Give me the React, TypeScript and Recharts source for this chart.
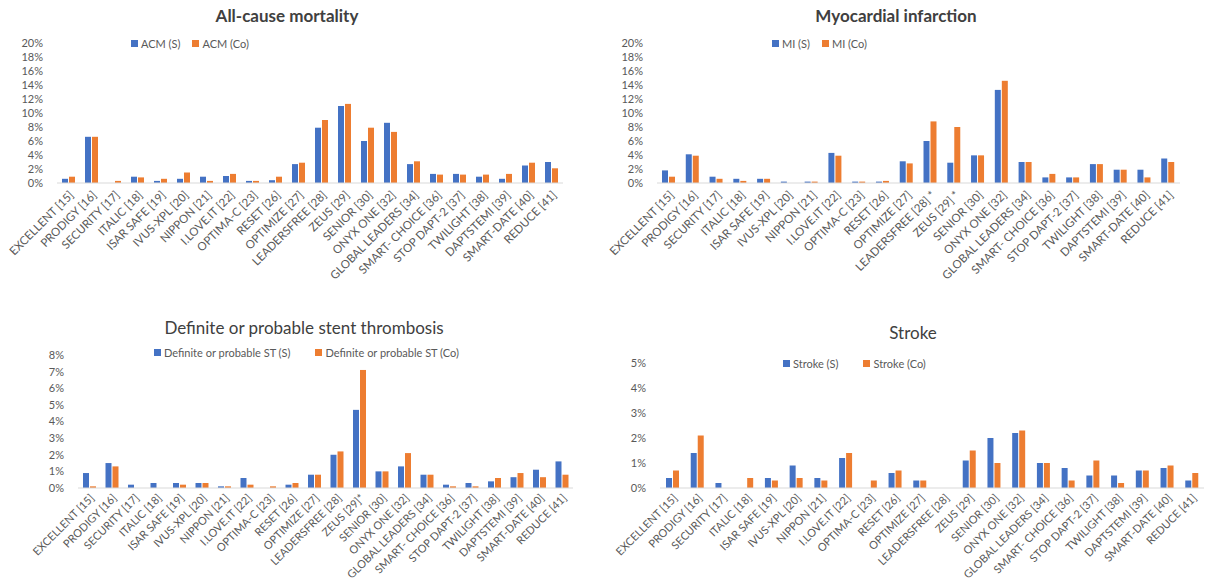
import React from "react";
import { BarChart, Bar, XAxis, YAxis } from "recharts";

const BLUE = "#4472C4";
const ORANGE = "#ED7D31";
const FONT = "Lato, 'Open Sans', sans-serif";

const acmLabels = ["EXCELLENT [15]", "PRODIGY [16]", "SECURITY [17]", "ITALIC [18]", "ISAR SAFE [19]", "IVUS-XPL [20]", "NIPPON [21]", "I.LOVE.IT [22]", "OPTIMA-C [23]", "RESET [26]", "OPTIMIZE [27]", "LEADERSFREE [28]", "ZEUS [29]", "SENIOR [30]", "ONYX ONE [32]", "GLOBAL LEADERS [34]", "SMART- CHOICE [36]", "STOP DAPT-2 [37]", "TWILIGHT [38]", "DAPTSTEMI [39]", "SMART-DATE [40]", "REDUCE [41]"];
const miLabels = ["EXCELLENT [15]", "PRODIGY [16]", "SECURITY [17]", "ITALIC [18]", "ISAR SAFE [19]", "IVUS-XPL [20]", "NIPPON [21]", "I.LOVE.IT [22]", "OPTIMA-C [23]", "RESET [26]", "OPTIMIZE [27]", "LEADERSFREE [28] *", "ZEUS [29] *", "SENIOR [30]", "ONYX ONE [32]", "GLOBAL LEADERS [34]", "SMART- CHOICE [36]", "STOP DAPT-2 [37]", "TWILIGHT [38]", "DAPTSTEMI [39]", "SMART-DATE [40]", "REDUCE [41]"];
const stLabels = ["EXCELLENT [15]", "PRODIGY [16]", "SECURITY [17]", "ITALIC [18]", "ISAR SAFE [19]", "IVUS-XPL [20]", "NIPPON [21]", "I.LOVE.IT [22]", "OPTIMA-C [23]", "RESET [26]", "OPTIMIZE [27]", "LEADERSFREE [28]", "ZEUS [29]*", "SENIOR [30]", "ONYX ONE [32]", "GLOBAL LEADERS [34]", "SMART- CHOICE [36]", "STOP DAPT-2 [37]", "TWILIGHT [38]", "DAPTSTEMI [39]", "SMART-DATE [40]", "REDUCE [41]"];
const strokeLabels = ["EXCELLENT [15]", "PRODIGY [16]", "SECURITY [17]", "ITALIC [18]", "ISAR SAFE [19]", "IVUS-XPL [20]", "NIPPON [21]", "I.LOVE.IT [22]", "OPTIMA-C [23]", "RESET [26]", "OPTIMIZE [27]", "LEADERSFREE [28]", "ZEUS [29]", "SENIOR [30]", "ONYX ONE [32]", "GLOBAL LEADERS [34]", "SMART- CHOICE [36]", "STOP DAPT-2 [37]", "TWILIGHT [38]", "DAPTSTEMI [39]", "SMART-DATE [40]", "REDUCE [41]"];

const acmS = [0.6, 6.6, 0, 0.9, 0.3, 0.6, 0.9, 1.0, 0.3, 0.4, 2.7, 7.9, 11.0, 6.0, 8.6, 2.7, 1.3, 1.3, 0.9, 0.6, 2.5, 3.0];
const acmCo = [0.9, 6.6, 0.3, 0.8, 0.6, 1.5, 0.3, 1.3, 0.3, 0.9, 2.9, 9.0, 11.3, 7.9, 7.3, 3.1, 1.2, 1.2, 1.2, 1.3, 2.9, 2.1];
const miS = [1.8, 4.1, 0.9, 0.6, 0.6, 0.2, 0.2, 4.3, 0.2, 0.2, 3.1, 6.0, 2.9, 3.95, 13.3, 3.0, 0.8, 0.8, 2.7, 1.9, 1.9, 3.5];
const miCo = [0.9, 3.9, 0.6, 0.3, 0.6, 0, 0.2, 3.9, 0.2, 0.3, 2.8, 8.8, 8.0, 3.95, 14.6, 3.0, 1.3, 0.8, 2.7, 1.9, 0.8, 3.0];
const stS = [0.9, 1.5, 0.2, 0.3, 0.3, 0.3, 0.1, 0.6, 0, 0.2, 0.8, 2.0, 4.7, 1.0, 1.3, 0.8, 0.2, 0.3, 0.4, 0.65, 1.1, 1.6];
const stCo = [0.1, 1.3, 0, 0, 0.2, 0.3, 0.1, 0.2, 0.1, 0.3, 0.8, 2.2, 7.1, 1.0, 2.1, 0.8, 0.1, 0.1, 0.6, 0.9, 0.65, 0.8];
const strokeS = [0.4, 1.4, 0.2, 0, 0.4, 0.9, 0.4, 1.2, 0, 0.6, 0.3, 0, 1.1, 2.0, 2.2, 1.0, 0.8, 0.5, 0.5, 0.7, 0.8, 0.3];
const strokeCo = [0.7, 2.1, 0, 0.4, 0.3, 0.4, 0.3, 1.4, 0.3, 0.7, 0.3, 0, 1.5, 1.0, 2.3, 1.0, 0.3, 1.1, 0.2, 0.7, 0.9, 0.6];

const acmTicks = [0, 2, 4, 6, 8, 10, 12, 14, 16, 18, 20];
const miTicks = [0, 2, 4, 6, 8, 10, 12, 14, 16, 18, 20];
const stTicks = [0, 1, 2, 3, 4, 5, 6, 7, 8];
const strokeTicks = [0, 1, 2, 3, 4, 5];

function build(labels: string[], s: number[], co: number[]) {
  return labels.map((name, i) => ({ name, s: s[i], co: co[i] }));
}

const makeTick = (fontSize: number, offY: number) => (props: any) => {
  const { x, y, payload } = props;
  return (
    <g transform={`translate(${x + 3},${y + offY})`}>
      <text x={0} y={0} dy="0.35em" textAnchor="end" transform="rotate(-45)" fill="#595959" fontSize={fontSize} fontFamily={FONT}>
        {payload.value}
      </text>
    </g>
  );
};

type PanelProps = {
  left: number; top: number; width: number; height: number;
  margin: { top: number; right: number; left: number; bottom: number };
  yWidth: number; xHeight: number; xFont: number; xOff: number;
  data: any[]; ticks: number[];
  title: string; titleBold: boolean; titleX: number; titleY: number;
  sName: string; coName: string;
  legendLeft: number; legendTop: number; legendGap: number;
};

const Panel = (p: PanelProps) => {
  const TickComp = makeTick(p.xFont, p.xOff);
  return (
    <div style={{ position: "absolute", left: p.left, top: p.top, width: p.width, height: p.height }}>
      <div style={{ position: "absolute", left: p.titleX - 250, width: 500, top: p.titleY, textAlign: "center", fontFamily: FONT, fontSize: 17, fontWeight: p.titleBold ? 700 : 400, color: "#404040", lineHeight: "20px", whiteSpace: "nowrap" }}>
        {p.title}
      </div>
      <div style={{ position: "absolute", left: p.legendLeft, top: p.legendTop, display: "flex", alignItems: "center", fontFamily: FONT, fontSize: 11, color: "#595959", whiteSpace: "nowrap", lineHeight: "13px", zIndex: 2 }}>
        <span style={{ display: "inline-block", width: 7, height: 7, background: BLUE, marginRight: 3 }} />
        <span style={{ marginRight: p.legendGap }}>{p.sName}</span>
        <span style={{ display: "inline-block", width: 7, height: 7, background: ORANGE, marginRight: 3 }} />
        <span>{p.coName}</span>
      </div>
      <BarChart width={p.width} height={p.height} data={p.data} margin={p.margin} barSize={6} barGap={1}>
        <XAxis dataKey="name" interval={0} height={p.xHeight} tick={<TickComp />} tickLine={false} axisLine={{ stroke: "#D9D9D9" }} />
        <YAxis width={p.yWidth} domain={[0, p.ticks[p.ticks.length - 1]]} ticks={p.ticks} interval={0} tickFormatter={(v: number) => `${v}%`} axisLine={false} tickLine={false} tickMargin={8} tick={{ fill: "#595959", fontSize: 11, fontFamily: FONT }} />
        <Bar dataKey="s" name={p.sName} fill={BLUE} isAnimationActive={false} />
        <Bar dataKey="co" name={p.coName} fill={ORANGE} isAnimationActive={false} />
      </BarChart>
    </div>
  );
};

export default function App() {
  return (
    <div style={{ position: "absolute", left: 0, top: 0, width: 1207, height: 583, background: "#fff", overflow: "hidden" }}>
      <Panel left={0} top={0} width={600} height={300} margin={{ top: 43, right: 37, left: 0, bottom: 0 }} yWidth={57} xHeight={117} xFont={11.5} xOff={2}
        data={build(acmLabels, acmS, acmCo)} ticks={acmTicks}
        title="All-cause mortality" titleBold={true} titleX={287} titleY={6}
        sName="ACM (S)" coName="ACM (Co)" legendLeft={131} legendTop={37} legendGap={12} />
      <Panel left={600} top={0} width={607} height={300} margin={{ top: 43, right: 27, left: 0, bottom: 0 }} yWidth={57} xHeight={117} xFont={11.5} xOff={2}
        data={build(miLabels, miS, miCo)} ticks={miTicks}
        title="Myocardial infarction" titleBold={true} titleX={296} titleY={6}
        sName="MI (S)" coName="MI (Co)" legendLeft={172} legendTop={37} legendGap={12} />
      <Panel left={0} top={295} width={600} height={288} margin={{ top: 60, right: 27, left: 0, bottom: 0 }} yWidth={78} xHeight={95} xFont={11} xOff={0}
        data={build(stLabels, stS, stCo)} ticks={stTicks}
        title="Definite or probable stent thrombosis" titleBold={false} titleX={304} titleY={23}
        sName="Definite or probable ST (S)" coName="Definite or probable ST (Co)" legendLeft={154} legendTop={51} legendGap={25} />
      <Panel left={600} top={295} width={607} height={288} margin={{ top: 68, right: 3, left: 0, bottom: 0 }} yWidth={60} xHeight={95} xFont={11} xOff={0}
        data={build(strokeLabels, strokeS, strokeCo)} ticks={strokeTicks}
        title="Stroke" titleBold={false} titleX={313} titleY={28}
        sName="Stroke (S)" coName="Stroke (Co)" legendLeft={183} legendTop={62} legendGap={25} />
    </div>
  );
}
